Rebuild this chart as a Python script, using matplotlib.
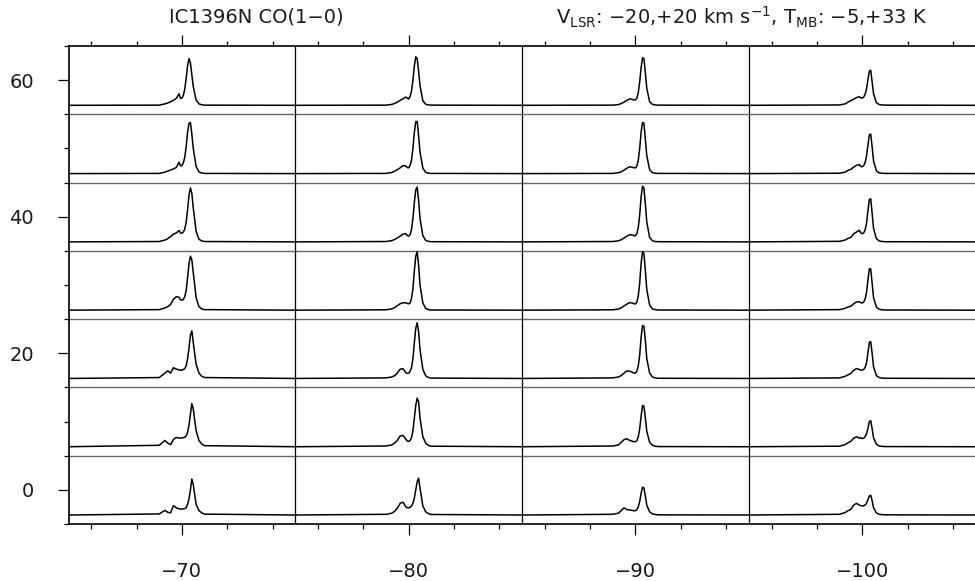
import matplotlib.pyplot as plt
from matplotlib.ticker import MultipleLocator

# velocity grid (km/s) shared by all spectra
vel = [-20, -4, -3, -2.5, -2, -1.5, -1, -0.5, -0.25, 0, 0.25, 0.5, 0.75,
       1.0, 1.25, 1.5, 1.75, 2.0, 2.5, 3.0, 3.5, 4, 20]

# panel centres (map offsets)
x_offsets = [-70, -80, -90, -100]
y_offsets = [60, 50, 40, 30, 20, 10, 0]   # rows, top to bottom

# T_MB (K) per column, rows top to bottom
col_m70 = [
    [0, 0.1, 0.8, 1.3, 2.0, 2.8, 3.8, 6.4, 3.8, 4.0, 5.5, 9, 15, 22, 26, 23.5, 17, 10.5, 3.0, 0.8, 0.3, 0.1, 0],
    [0, 0.1, 0.8, 1.4, 2.0, 2.6, 3.4, 6.3, 4.3, 4.5, 6, 9, 15, 23, 28, 28.5, 22, 14, 4, 1.0, 0.3, 0.1, 0],
    [0, 0.2, 1.0, 1.8, 3.0, 4.3, 5.0, 6.3, 5.0, 4.8, 5.5, 7, 11, 18, 26, 30, 27, 19, 6, 1.5, 0.5, 0.2, 0],
    [0, 0.3, 1.2, 2.0, 3.2, 6.0, 7.5, 7.2, 5.8, 5.5, 6, 7.5, 11, 18, 26, 30, 28, 21, 7, 2, 0.7, 0.3, 0],
    [0, 0.5, 3.0, 4.2, 3.0, 6.0, 5.2, 4.8, 4.6, 4.6, 5.0, 5.5, 7, 11, 17, 24, 26.5, 20, 8, 3.0, 1.2, 0.5, 0],
    [0, 0.8, 3.5, 2.0, 1.2, 4.0, 5.2, 4.8, 4.8, 5.0, 5.0, 5.3, 6.0, 8, 12, 18, 24, 21, 9, 3.5, 1.5, 0.6, 0],
    [0, 0.6, 2.6, 1.5, 1.2, 5.2, 4.0, 3.5, 3.3, 3.3, 3.4, 3.6, 4.0, 6, 9, 14, 20, 17, 6, 2.5, 1.2, 0.5, 0],
]
col_m80 = [
    [0, 0.1, 0.5, 1.0, 1.8, 2.8, 3.6, 4.6, 4.0, 3.5, 5, 8, 14, 22, 27, 26, 19, 11, 2.5, 0.6, 0.2, 0.1, 0],
    [0, 0.1, 0.6, 1.2, 2.2, 3.2, 4.5, 4.2, 3.4, 3.2, 4.5, 7.5, 14, 23, 29, 29, 21, 12, 3, 0.7, 0.2, 0.1, 0],
    [0, 0.2, 0.7, 1.3, 2.2, 3.2, 4.3, 4.6, 3.5, 3.2, 4.0, 7, 13, 22, 29, 30.5, 23, 13, 3.5, 0.8, 0.3, 0.1, 0],
    [0, 0.2, 0.7, 1.4, 2.5, 3.6, 4.1, 4.1, 3.8, 3.5, 4.0, 6.5, 12, 22, 30, 32.5, 25, 14, 4, 1.0, 0.3, 0.1, 0],
    [0, 0.3, 0.8, 1.5, 3.0, 5.2, 5.4, 3.2, 2.8, 3.0, 4.0, 6, 11, 20, 28, 31, 26, 16, 5, 1.5, 0.5, 0.2, 0],
    [0, 0.4, 1.0, 2.0, 3.5, 6.0, 6.3, 4.2, 3.2, 2.9, 3.5, 5, 9, 16, 23, 27, 25, 16, 5.5, 2, 0.7, 0.3, 0],
    [0, 0.4, 1.0, 2.0, 3.8, 6.5, 7.2, 4.5, 4.0, 4.0, 4.3, 5, 6.5, 9.5, 14, 18.5, 20.5, 15, 5, 1.8, 0.7, 0.3, 0],
]
col_m90 = [
    [0, 0.1, 0.4, 1.0, 1.8, 2.8, 3.6, 3.2, 3.0, 3.0, 4, 7, 13, 21, 26.5, 26, 18, 9.5, 2, 0.5, 0.2, 0.1, 0],
    [0, 0.1, 0.5, 1.0, 2.0, 3.0, 3.8, 3.5, 3.2, 3.2, 4.2, 7.5, 14, 23, 28.5, 28, 19, 10, 2.2, 0.5, 0.2, 0.1, 0],
    [0, 0.2, 0.6, 1.2, 2.2, 3.2, 4.0, 3.8, 3.4, 3.4, 4.5, 8, 15, 25, 31, 30, 21, 11, 2.5, 0.6, 0.2, 0.1, 0],
    [0, 0.2, 0.6, 1.3, 2.4, 3.4, 4.2, 4.0, 3.5, 3.5, 4.5, 8, 15, 26, 32.5, 31.5, 22, 11.5, 2.8, 0.7, 0.3, 0.1, 0],
    [0, 0.3, 0.8, 1.6, 3.0, 4.2, 4.0, 3.4, 3.0, 3.0, 4.0, 7, 13, 23, 29.5, 29, 21, 11, 3, 0.8, 0.3, 0.1, 0],
    [0, 0.4, 1.0, 2.5, 4.0, 4.4, 3.5, 3.0, 2.8, 2.8, 3.4, 5.5, 10, 17, 23, 22.5, 16, 8.5, 2.5, 0.8, 0.3, 0.1, 0],
    [0, 0.4, 1.0, 2.5, 4.0, 3.0, 2.8, 2.5, 2.4, 2.4, 3.0, 4.5, 7.5, 12, 15.5, 15, 10.5, 5.5, 1.8, 0.6, 0.3, 0.1, 0],
]
col_m100 = [
    [0, 0.2, 0.8, 1.8, 2.6, 3.4, 4.3, 4.8, 4.2, 4.0, 4.5, 6, 9, 14, 19, 19.5, 13, 6.5, 1.5, 0.4, 0.2, 0.1, 0],
    [0, 0.2, 0.8, 1.8, 2.4, 3.6, 4.6, 5.0, 4.0, 3.8, 4.4, 6, 9.5, 15.5, 21.5, 22, 15, 7, 1.6, 0.4, 0.2, 0.1, 0],
    [0, 0.3, 1.0, 2.0, 2.5, 4.5, 5.5, 6.5, 5.0, 4.5, 5, 6.5, 10, 17, 23.5, 24, 16, 7.5, 1.8, 0.5, 0.2, 0.1, 0],
    [0, 0.3, 1.0, 1.8, 2.2, 3.6, 4.6, 4.6, 4.2, 4.0, 4.5, 6, 9.5, 16.5, 23, 23, 15, 7, 1.7, 0.5, 0.2, 0.1, 0],
    [0, 0.3, 1.2, 2.0, 2.8, 4.5, 5.5, 5.0, 4.6, 4.6, 5, 6, 8.5, 14, 20, 20.5, 14, 6.5, 1.6, 0.5, 0.2, 0.1, 0],
    [0, 0.3, 1.2, 2.2, 3.0, 4.8, 5.5, 4.8, 5.0, 4.5, 4.8, 5.5, 7, 10, 14, 14.5, 10, 5, 1.4, 0.4, 0.2, 0.1, 0],
    [0, 0.4, 1.4, 2.4, 3.2, 5.5, 6.5, 5.5, 5.2, 5.0, 5.2, 5.5, 6.5, 8.5, 10.5, 11, 8, 4, 1.2, 0.4, 0.2, 0.1, 0],
]
columns = [col_m70, col_m80, col_m90, col_m100]

fig = plt.figure(figsize=(9.75, 5.81), dpi=100)
ax = fig.add_axes([0.0703, 0.0981, 0.9303, 0.8227])
ax.set_xlim(-65, -105)
ax.set_ylim(-5, 65)

# grid of boxes
for y in [5, 15, 25, 35, 45, 55]:
    ax.axhline(y, color='0.4', lw=1.0)
for x in [-75, -85, -95]:
    ax.axvline(x, color='k', lw=0.9)

ncol, nrow = len(x_offsets), len(y_offsets)
for c, column in enumerate(columns):
    for r, spec in enumerate(column):
        sub = ax.inset_axes([c / ncol, (nrow - 1 - r) / nrow, 1 / ncol, 1 / nrow])
        sub.plot(vel, spec, color='k', lw=1.1)
        sub.set_xlim(-20, 20)
        sub.set_ylim(-5, 33)
        sub.axis('off')

for s in ax.spines.values():
    s.set_linewidth(1.2)
ax.xaxis.set_major_locator(MultipleLocator(10))
ax.xaxis.set_minor_locator(MultipleLocator(2))
ax.yaxis.set_major_locator(MultipleLocator(20))
ax.yaxis.set_minor_locator(MultipleLocator(5))
ax.tick_params(which='both', direction='out', top=True, right=False, width=0.9,
               labelsize=14, labelcolor='0.1')
ax.tick_params(which='major', length=8)
ax.tick_params(which='minor', length=3.8)
ax.tick_params(axis='x', pad=19)
ax.tick_params(axis='y', pad=17)

fig.text(0.2626, 0.9707, 'IC1396N CO(1\u22120)', ha='center', va='center',
         fontsize=14, color='0.1')
fig.text(0.570, 0.9707,
         r'V$_{\rm LSR}$: \u221220,+20 km s$^{\u22121}$, T$_{\rm MB}$: \u22125,+33 K'
         .replace('\\u2212', '\u2212'),
         ha='left', va='center', fontsize=14, color='0.1')

fig.savefig('out.png', dpi=100)
